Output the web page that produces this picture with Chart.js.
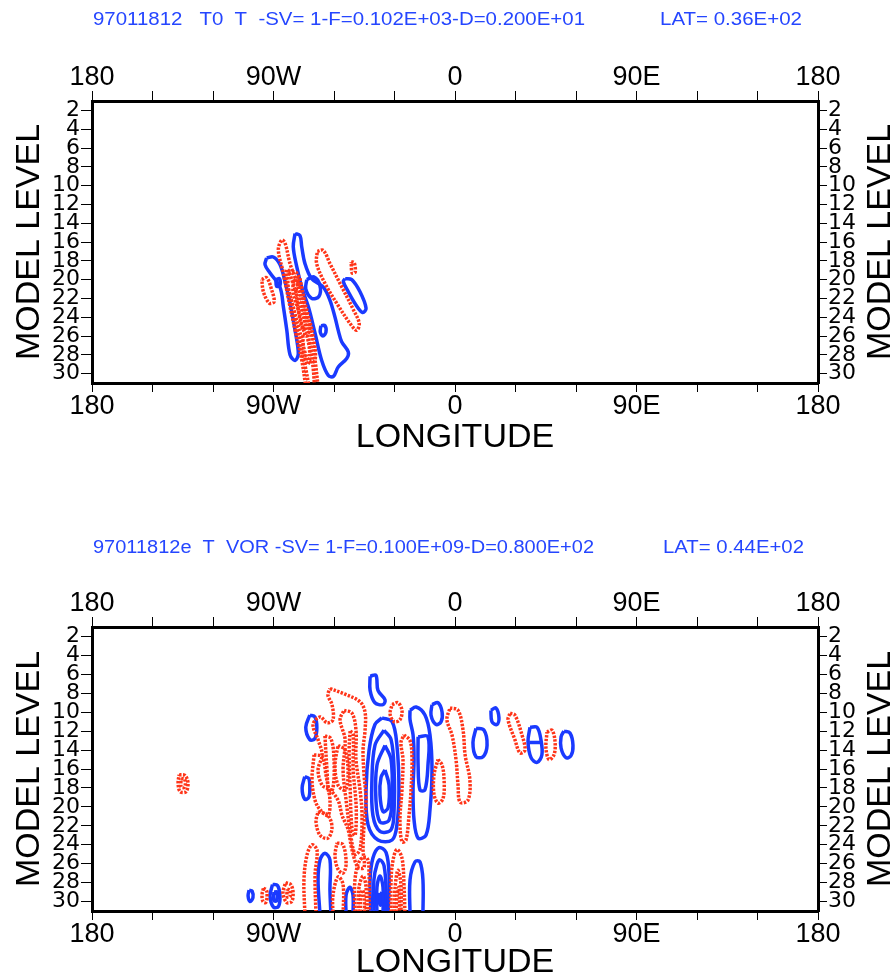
<!DOCTYPE html>
<html><head><meta charset="utf-8">
<script src="https://cdn.jsdelivr.net/npm/chart.js@4.4.1/dist/chart.umd.min.js"></script>
<style>
html,body{margin:0;padding:0;background:#fff;width:890px;height:977px;overflow:hidden}
#p1{position:absolute;left:0;top:0;width:890px;height:527px}
#p2{position:absolute;left:0;top:527px;width:890px;height:450px}
</style></head><body>
<div id="p1"><canvas id="c1"></canvas></div>
<div id="p2"><canvas id="c2"></canvas></div>
<script>
// ---------- axis ticks ----------
const lonTicks = [-180,-150,-120,-90,-60,-30,0,30,60,90,120,150,180];
const lonLabels = ['180','','','90W','','','0','','','90E','','','180'];
const levelTicks = [2,4,6,8,10,12,14,16,18,20,22,24,26,28,30];

// ---------- titles ----------
const head1 = '97011812   T0  T  -SV= 1-F=0.102E+03-D=0.200E+01';
const lat1 = 'LAT= 0.36E+02';
const head2 = '97011812e  T  VOR -SV= 1-F=0.100E+09-D=0.800E+02';
const lat2 = 'LAT= 0.44E+02';

// ---------- panel 1 contours [longitude, model level] ----------
const t1Blue1 = [[-79.3,15.1],[-76.9,15.3],[-76.0,16.5],[-74.4,18.3],[-71.1,19.9],[-65.3,20.8],[-62.0,22.2],[-59.5,24.0],[-57.9,25.4],[-56.2,26.6],[-52.9,27.7],[-53.7,28.4],[-57.9,29.3],[-60.3,30.3],[-62.8,30.2],[-66.1,28.6],[-69.4,25.7],[-72.7,22.9],[-76.0,20.8],[-78.5,18.6],[-80.2,16.5],[-79.3,15.1]];
const t1Blue2 = [[-93.4,17.7],[-90.1,17.6],[-86.8,18.4],[-84.3,20.2],[-81.8,22.5],[-79.3,25.4],[-77.7,27.9],[-79.3,28.6],[-81.8,28.0],[-83.4,25.4],[-85.1,22.9],[-86.8,20.8],[-91.7,19.3],[-94.2,18.4],[-93.4,17.7]];
const t1Blue3 = [[-54.5,19.9],[-51.2,20.0],[-47.1,21.3],[-44.1,23.05],[-45.8,23.5],[-49.1,22.7],[-52.9,21.3],[-55.4,20.2],[-54.5,19.9]];
const t1Blue4 = [[-73.5,20.0],[-70.0,19.7],[-67.0,20.6],[-67.5,21.8],[-71.0,22.0],[-74.0,21.0],[-73.5,20.0]];
const t1Blue5 = [[-66.5,24.9],[-64.5,24.9],[-64.0,25.6],[-65.5,26.0],[-66.8,25.6],[-66.5,24.9]];
const t1Blue6 = [[-88.8,20.0],[-87.0,19.9],[-86.8,20.6],[-88.5,20.7],[-88.8,20.0]];
const t1Red1 = [[-95.8,20.0],[-93.4,19.8],[-90.9,21.1],[-89.7,22.35],[-92.1,22.5],[-95.0,21.3],[-95.8,20.0]];
const t1Red2 = [[-73.9,31.5],[-76.0,28.55],[-78.5,26.1],[-81.8,22.9],[-85.1,19.3],[-87.6,16.85],[-85.9,15.8],[-84.3,16.1],[-81.8,18.3],[-77.7,20.8],[-74.4,23.6],[-71.1,26.1],[-69.4,28.55],[-67.8,31.5]];
const t1Red3 = [[-82.7,19.2],[-78.5,19.3],[-74.4,22.5],[-70.3,26.1],[-69.4,28.6],[-72.7,28.6],[-76.8,25.7],[-80.2,22.9],[-82.7,20.8],[-82.7,19.2]];
const t1Red4 = [[-80.2,20.0],[-76.8,20.4],[-74.4,22.9],[-71.9,25.4],[-74.4,25.7],[-77.7,23.2],[-80.2,21.5],[-80.2,20.0]];
const t1Red5 = [[-68.3,17.0],[-65.3,16.9],[-62.0,18.3],[-56.2,20.75],[-50.4,23.2],[-47.5,24.65],[-48.8,25.4],[-52.1,24.65],[-58.7,22.5],[-64.5,20.4],[-68.6,18.3],[-68.3,17.0]];
const t1Red6 = [[-51.5,18.1],[-50.0,18.2],[-49.5,19.2],[-51.0,19.3],[-51.5,18.1]];
const t1Red7 = [[-79.0,21.0],[-77.0,21.2],[-75.5,23.0],[-74.0,25.0],[-75.5,25.3],[-77.5,23.5],[-79.0,21.0]];
const t1Red8 = [[-75.5,25.8],[-73.5,26.0],[-72.0,28.0],[-73.0,29.0],[-74.8,28.0],[-75.5,25.8]];
const t1Red9 = [[-72.3,31.5],[-74.0,29.5],[-76.8,27.0],[-79.5,24.0],[-82.0,21.5],[-83.8,19.8],[-83.0,18.9],[-80.5,20.3],[-77.0,22.5],[-74.0,25.0],[-71.5,27.5],[-70.3,29.5],[-69.6,31.5]];
const t1Red10 = [[-78.2,19.6],[-77.0,19.8],[-76.6,20.7],[-77.8,20.8],[-78.2,19.6]];

// ---------- panel 2 contours [longitude, model level] ----------
const t2Blue1 = [[-42.1,6.2],[-39.2,6.1],[-38.2,7.7],[-34.7,8.7],[-35.7,9.2],[-39.7,9.0],[-42.1,7.7],[-42.1,6.2]];
const t2Blue2 = [[-72.0,10.3],[-69.5,10.5],[-68.5,11.6],[-69.5,12.8],[-72.0,12.9],[-74.0,11.6],[-72.0,10.3]];
const t2Blue3 = [[-74.5,16.8],[-72.5,17.0],[-72.0,18.0],[-72.5,19.0],[-74.5,19.2],[-75.8,18.0],[-74.5,16.8]];
const t2Blue4 = [[-36.2,10.6],[-31.2,11.0],[-28.8,13.5],[-27.8,18.2],[-28.8,21.9],[-31.2,23.5],[-38.2,23.5],[-43.1,21.9],[-44.1,18.2],[-42.6,14.0],[-39.7,11.3],[-36.2,10.6]];
const t2Blue5 = [[-35.2,11.9],[-31.7,12.9],[-30.2,16.1],[-30.2,20.3],[-31.7,22.4],[-37.2,22.6],[-40.7,20.9],[-41.2,17.2],[-39.7,13.5],[-35.2,11.9]];
const t2Blue6 = [[-34.7,13.5],[-31.7,15.0],[-31.2,18.7],[-32.7,21.4],[-37.2,21.6],[-39.2,19.3],[-38.7,15.6],[-34.7,13.5]];
const t2Blue7 = [[-34.7,16.1],[-32.7,17.7],[-33.2,20.1],[-35.7,20.5],[-37.2,18.7],[-36.7,16.9],[-34.7,16.1]];
const t2Blue8 = [[-22.3,9.8],[-19.3,9.45],[-14.9,10.3],[-12.4,12.4],[-11.4,16.1],[-12.4,20.3],[-14.4,23.0],[-18.3,23.3],[-20.3,21.4],[-20.8,18.2],[-20.3,15.0],[-20.8,12.4],[-22.3,10.8],[-22.3,9.8]];
const t2Blue9 = [[-18.3,12.6],[-13.4,12.6],[-13.4,15.6],[-14.9,18.2],[-17.4,18.2],[-18.3,15.6],[-18.3,12.6]];
const t2Blue10 = [[-11.4,9.2],[-8.4,9.0],[-6.4,10.0],[-6.9,11.0],[-9.4,11.3],[-11.9,10.3],[-11.4,9.2]];
const t2Blue11 = [[10.4,11.7],[14.4,11.9],[15.9,13.5],[13.9,14.7],[10.4,14.7],[8.9,13.2],[10.4,11.7]];
const t2Blue12 = [[17.8,9.8],[20.3,9.55],[21.8,10.6],[20.8,11.3],[18.3,11.0],[17.8,9.8]];
const t2Blue13 = [[37.2,11.6],[40.7,11.6],[42.6,12.9],[43.1,14.5],[40.7,15.3],[37.7,14.8],[36.2,13.1],[37.2,11.6]];
const t2Blue14 = [[36.8,13.2],[42.2,13.2]];
const t2Blue15 = [[54.0,12.0],[57.0,12.2],[58.5,13.5],[57.5,14.6],[55.0,14.8],[52.6,13.8],[52.6,12.6],[54.0,12.0]];
const t2Blue16 = [[-66.9,31.5],[-67.9,27.7],[-66.9,25.6],[-64.5,24.9],[-62.0,25.6],[-62.0,28.8],[-61.5,31.5]];
const t2Blue17 = [[-54.0,31.5],[-54.0,29.3],[-52.1,28.5],[-50.6,29.3],[-50.6,31.5]];
const t2Blue18 = [[-41.7,31.5],[-42.1,27.7],[-40.7,25.4],[-37.7,24.3],[-34.2,24.8],[-32.7,27.2],[-33.2,31.5]];
const t2Blue19 = [[-40.2,31.5],[-40.2,27.7],[-38.7,26.1],[-37.2,25.6],[-35.2,26.2],[-34.2,28.8],[-34.7,31.5]];
const t2Blue20 = [[-38.7,31.5],[-38.7,28.5],[-37.2,27.3],[-35.7,28.5],[-35.7,31.5]];
const t2Blue21 = [[-37.4,29.1],[-36.4,29.2],[-36.2,29.8],[-36.9,30.4],[-37.7,29.8],[-37.4,29.1]];
const t2Blue22 = [[-22.3,31.5],[-22.3,27.7],[-19.8,25.8],[-17.4,25.8],[-15.9,27.7],[-15.9,31.5]];
const t2Blue23 = [[-102.1,28.8],[-100.6,28.9],[-100.2,29.6],[-101.6,30.0],[-102.6,29.4],[-102.1,28.8]];
const t2Blue24 = [[-90.5,28.2],[-88.0,28.3],[-86.8,29.4],[-87.5,30.5],[-90.0,30.6],[-91.7,29.4],[-90.5,28.2]];
const t2Blue25 = [[-89.8,29.0],[-88.3,29.0],[-88.3,29.9],[-89.8,29.9],[-89.8,29.0]];

const t2Red1 = [[-62.0,7.5],[-54.5,8.1],[-47.1,8.9],[-44.6,10.0],[-44.6,11.9],[-45.6,14.0],[-45.1,16.6],[-44.1,19.3],[-45.1,21.9],[-45.6,24.5],[-45.1,26.4],[-48.1,26.4],[-51.1,24.5],[-53.0,22.4],[-56.0,20.9],[-58.0,19.3],[-62.0,18.2],[-65.9,17.7],[-67.9,16.1],[-65.9,14.5],[-67.9,12.9],[-70.4,11.3],[-66.9,10.5],[-63.5,11.1],[-60.5,10.8],[-61.0,9.2],[-63.0,8.2],[-62.0,7.5]];
const t2Red2 = [[-55.0,9.8],[-51.1,10.1],[-49.1,11.9],[-49.1,15.0],[-47.1,18.2],[-46.1,20.9],[-47.1,24.5],[-49.6,25.0],[-52.1,22.4],[-54.0,19.3],[-55.5,16.1],[-54.5,12.9],[-57.0,10.8],[-55.0,9.8]];
const t2Red3 = [[-58.0,13.5],[-54.5,14.0],[-53.0,16.6],[-54.5,18.2],[-58.0,17.7],[-59.5,15.6],[-58.0,13.5]];
const t2Red4 = [[-69.9,14.5],[-65.9,14.7],[-64.0,16.6],[-62.0,19.3],[-63.0,20.9],[-66.9,20.3],[-69.4,19.3],[-70.9,17.2],[-69.9,14.5]];
const t2Red5 = [[-67.9,20.5],[-63.0,20.9],[-61.0,22.2],[-63.0,23.3],[-66.9,23.0],[-68.9,21.6],[-67.9,20.5]];
const t2Red6 = [[-25.3,12.4],[-22.3,13.0],[-21.3,15.0],[-21.8,18.2],[-22.8,20.9],[-24.3,23.5],[-26.3,23.7],[-27.3,21.4],[-26.3,18.2],[-25.8,15.0],[-26.8,13.2],[-25.3,12.4]];
const t2Red7 = [[-31.2,9.2],[-28.3,9.0],[-26.3,9.8],[-27.3,10.8],[-30.2,11.0],[-32.2,10.2],[-31.2,9.2]];
const t2Red8 = [[-2.5,9.55],[1.5,9.8],[4.0,11.9],[5.0,14.5],[7.4,17.2],[6.4,19.3],[2.5,19.5],[1.5,17.7],[0.5,15.0],[-1.5,12.4],[-4.0,10.8],[-2.5,9.55]];
const t2Red9 = [[-8.4,15.0],[-6.4,15.6],[-5.4,17.2],[-5.9,19.1],[-8.4,19.6],[-10.4,18.7],[-10.4,16.6],[-8.4,15.0]];
const t2Red10 = [[-74.4,31.5],[-74.9,27.7],[-73.4,25.1],[-70.9,24.0],[-68.4,24.6],[-69.4,27.2],[-68.9,31.5]];
const t2Red11 = [[27.3,10.1],[29.7,10.3],[33.2,12.4],[34.7,14.0],[32.2,14.3],[29.7,12.9],[26.3,10.8],[27.3,10.1]];
const t2Red12 = [[45.6,12.1],[48.1,11.9],[49.6,13.1],[49.1,14.5],[46.6,15.0],[45.1,13.8],[45.6,12.1]];
const t2Red13 = [[-136.8,16.6],[-133.8,16.7],[-132.4,17.5],[-133.4,18.4],[-136.3,18.4],[-137.3,17.5],[-136.8,16.6]];
const t2Red14 = [[-135.8,17.0],[-134.0,17.1],[-134.0,17.9],[-135.8,17.9],[-135.8,17.0]];
const t2Red15 = [[-95.0,28.6],[-93.5,28.8],[-93.2,29.5],[-93.8,30.1],[-95.2,30.0],[-95.7,29.3],[-95.0,28.6]];
const t2Red16 = [[-84.0,28.0],[-81.5,28.2],[-80.3,29.0],[-81.0,30.0],[-83.5,30.1],[-85.3,29.1],[-84.0,28.0]];
const t2Red17 = [[-83.2,28.7],[-81.8,28.8],[-81.8,29.5],[-83.2,29.5],[-83.2,28.7]];
const t2Red18 = [[-60.5,31.5],[-60.5,29.3],[-58.0,27.4],[-55.5,28.2],[-55.5,31.5]];
const t2Red19 = [[-49.6,31.5],[-49.6,27.7],[-47.1,25.6],[-43.6,25.4],[-42.6,27.2],[-42.6,31.5]];
const t2Red20 = [[-48.1,31.5],[-47.6,28.5],[-45.6,27.3],[-44.1,28.5],[-44.1,31.5]];
const t2Red21 = [[-31.7,31.5],[-31.7,27.7],[-30.7,25.6],[-28.8,24.5],[-26.3,25.4],[-25.3,28.2],[-24.8,31.5]];
const t2Red22 = [[-30.2,31.5],[-29.7,28.5],[-28.3,26.7],[-26.8,28.2],[-26.8,31.5]];
const t2Red23 = [[-29.2,31.5],[-28.8,29.5],[-27.8,28.5],[-27.5,30.0],[-27.5,31.5]];
const t2Red24 = [[-64.5,12.5],[-61.5,12.8],[-60.0,15.0],[-60.5,18.0],[-62.5,18.5],[-63.5,16.0],[-64.5,12.5]];
const t2Red25 = [[-52.0,12.0],[-50.5,12.3],[-50.5,16.0],[-49.0,20.0],[-49.5,23.0],[-51.0,22.5],[-52.0,18.0],[-52.5,14.0],[-52.0,12.0]];
const t2Red26 = [[-47.0,31.5],[-46.8,29.5],[-45.8,28.8],[-45.0,29.8],[-45.0,31.5]];
const t2Red27 = [[-58.5,23.8],[-55.5,24.0],[-54.0,26.0],[-55.5,27.0],[-58.0,26.6],[-59.5,25.2],[-58.5,23.8]];

const panel1Blue = [t1Blue1,t1Blue2,t1Blue3,t1Blue4,t1Blue5,t1Blue6];
const panel1Red = [t1Red1,t1Red2,t1Red3,t1Red4,t1Red5,t1Red6,t1Red7,t1Red8,t1Red9,t1Red10];
const panel2Blue = [t2Blue1,t2Blue2,t2Blue3,t2Blue4,t2Blue5,t2Blue6,t2Blue7,t2Blue8,t2Blue9,t2Blue10,t2Blue11,t2Blue12,t2Blue13,t2Blue14,t2Blue15,t2Blue16,t2Blue17,t2Blue18,t2Blue19,t2Blue20,t2Blue21,t2Blue22,t2Blue23,t2Blue24,t2Blue25];
const panel2Red = [t2Red1,t2Red2,t2Red3,t2Red4,t2Red5,t2Red6,t2Red7,t2Red8,t2Red9,t2Red10,t2Red11,t2Red12,t2Red13,t2Red14,t2Red15,t2Red16,t2Red17,t2Red18,t2Red19,t2Red20,t2Red21,t2Red22,t2Red23,t2Red24,t2Red25,t2Red26,t2Red27];

// ---------- styling ----------
const BLUE = '#1a3aff';
const RED = '#ff3418';
const HEAD = '#2546ff';
const SANS = '"Liberation Sans", Arial, Helvetica, sans-serif';
const TICKFONT = '"DejaVu Sans", "Liberation Sans", sans-serif';

function fitText(ctx, text, x, y, w) {
  const m = ctx.measureText(text).width;
  ctx.save();
  ctx.translate(x, y);
  ctx.scale(w / m, 1);
  ctx.fillText(text, 0, 0);
  ctx.restore();
}

const decor = {
  id: 'decor',
  afterDraw(chart, args, o) {
    const ctx = chart.ctx, ca = chart.chartArea;
    ctx.save();
    ctx.fillStyle = HEAD;
    ctx.font = '18px ' + SANS;
    ctx.textBaseline = 'middle';
    ctx.textAlign = 'left';
    fitText(ctx, o.head, 93, o.headY, o.headW);
    fitText(ctx, o.lat, o.latX, o.headY, o.latW);
    ctx.fillStyle = '#000';
    ctx.font = '34px ' + SANS;
    ctx.textAlign = 'center';
    ctx.translate(881, (ca.top + ca.bottom) / 2);
    ctx.rotate(-Math.PI / 2);
    ctx.fillText('MODEL LEVEL', 0, 0);
    ctx.restore();
  }
};

function lonAxis(pos, h, title, titlePad) {
  return {
    type: 'linear', position: pos, min: -180, max: 180, z: 1,
    afterBuildTicks: s => { s.ticks = lonTicks.map(v => ({value: v})); },
    afterFit: s => { s.height = h; },
    ticks: {
      autoSkip: false, maxRotation: 0, minRotation: 0, color: '#000',
      padding: pos === 'top' ? 0 : 1,
      font: {family: SANS, size: 27, lineHeight: 1},
      callback: v => { const i = lonTicks.indexOf(v); return i < 0 ? '' : lonLabels[i]; }
    },
    grid: {drawOnChartArea: false, drawTicks: true, tickLength: pos === 'top' ? 10 : 9, color: '#000', lineWidth: 1},
    border: {display: true, color: '#000', width: 3},
    title: title ? {display: true, text: 'LONGITUDE', color: '#000', font: {family: SANS, size: 34, lineHeight: 1}, padding: {top: 0, bottom: titlePad}} : {display: false}
  };
}
function levAxis(pos, w, title) {
  return {
    type: 'linear', position: pos, min: 1, max: 31, reverse: true, z: 1,
    afterBuildTicks: s => { s.ticks = levelTicks.map(v => ({value: v})); },
    afterFit: s => { s.width = w; },
    ticks: {autoSkip: false, color: '#000', padding: 1, font: {family: TICKFONT, size: 22, lineHeight: 1},
      callback: v => String(v)},
    grid: {drawOnChartArea: false, drawTicks: true, tickLength: pos === 'left' ? 11 : 9, color: '#000', lineWidth: 1},
    border: {display: true, color: '#000', width: 3},
    title: title ? {display: true, text: 'MODEL LEVEL', color: '#000', font: {family: SANS, size: 34, lineHeight: 1}, padding: {top: 13, bottom: 0}} : {display: false}
  };
}

function lineSet(points, color, dashed, width) {
  return {
    data: points, borderColor: color, backgroundColor: color,
    borderWidth: width, borderDash: dashed ? [2.4, 1.4] : [],
    showLine: true, pointRadius: 0, pointHoverRadius: 0, tension: 0.35,
    fill: false, clip: 0, xAxisID: 'x', yAxisID: 'y', borderCapStyle: 'butt', borderJoinStyle: 'round'
  };
}

function makeChart(id, blues, reds, g) {
  const datasets = [];
  reds.forEach(p => datasets.push(lineSet(p, RED, true, 3.5)));
  blues.forEach(p => datasets.push(lineSet(p, BLUE, false, 3.5)));
  return new Chart(document.getElementById(id), {
    type: 'scatter',
    data: {datasets},
    options: {
      responsive: true, maintainAspectRatio: false, animation: false, events: [],
      layout: {padding: 0},
      plugins: {legend: {display: false}, tooltip: {enabled: false}, decor: g.decor},
      scales: {
        x: lonAxis('bottom', g.bottomH, true, g.titlePad),
        x2: lonAxis('top', g.topH, false, 0),
        y: levAxis('left', 92, true),
        y2: levAxis('right', 72, false)
      }
    },
    plugins: [decor]
  });
}

makeChart('c1', panel1Blue, panel1Red, {
  topH: 101, bottomH: 144, titlePad: 72,
  decor: {head: head1, lat: lat1, headY: 20, headW: 492, latX: 660, latW: 142}
});
makeChart('c2', panel2Blue, panel2Red, {
  topH: 100, bottomH: 66, titlePad: -3,
  decor: {head: head2, lat: lat2, headY: 21, headW: 501, latX: 663, latW: 141}
});
</script>
</body></html>
